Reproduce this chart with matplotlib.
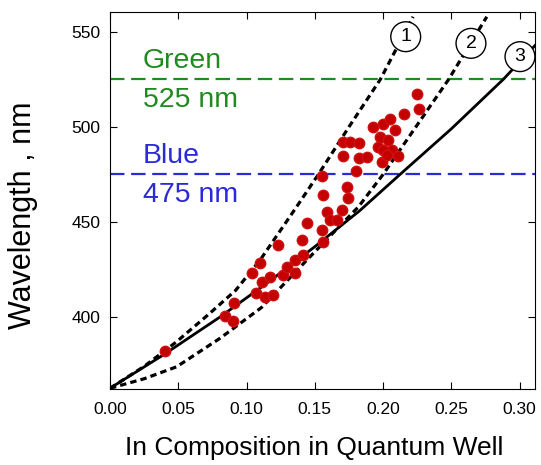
import matplotlib
matplotlib.use('Agg')
import matplotlib.pyplot as plt

plt.rcParams['font.family'] = ['Liberation Sans', 'DejaVu Sans']

# measured In composition vs. emission wavelength (nm)
x_meas = [0.040, 0.084, 0.090, 0.091, 0.104, 0.110, 0.107, 0.1135, 0.111, 0.1196,
          0.117, 0.123, 0.127, 0.1294, 0.1355, 0.1355, 0.1416, 0.1404, 0.1445, 0.155,
          0.156, 0.1587, 0.161, 0.166, 0.1697, 0.1746, 0.1734, 0.1562, 0.155, 0.1802,
          0.1709, 0.1826, 0.188, 0.1704, 0.1758, 0.1826, 0.1929, 0.1997, 0.2051, 0.2153,
          0.2246, 0.2266, 0.2087, 0.1978, 0.2039, 0.1965, 0.2063, 0.2002, 0.2112, 0.199,
          0.2027]
wl_meas = [382, 400.5, 398, 407.5, 423, 428.5, 412.5, 410.5, 418.5, 411.5,
           421, 438, 422, 426.5, 423, 430, 432.5, 440.5, 449.5, 445.8,
           439.6, 455.4, 451, 451, 456.3, 462.5, 468.6, 464.2, 474.2, 477,
           484.7, 483.5, 484, 492.3, 492.3, 491.7, 500.2, 501.6, 504, 506.7,
           517.4, 509.3, 498.4, 494.9, 493.2, 489.6, 487.9, 487.9, 484.7, 481.7,
           485.3]

# model curves
x_c1 = [0, 0.025, 0.0488, 0.0732, 0.092, 0.110, 0.1367, 0.1526, 0.175, 0.198, 0.222]
wl_c1 = [362.5, 374, 387, 402, 414, 430, 458, 475, 500, 525, 558]
x_c2 = [0, 0.025, 0.0488, 0.0806, 0.111, 0.1465, 0.182, 0.200, 0.248, 0.276]
wl_c2 = [362.5, 367.5, 373.8, 388.8, 405, 431.7, 458, 475, 525, 558]
x_c3 = [0, 0.039, 0.0806, 0.1172, 0.150, 0.183, 0.2124, 0.250, 0.288, 0.315]
wl_c3 = [362.5, 380, 400, 419, 437, 456, 475, 499, 525, 545.7]

fig = plt.figure(figsize=(5.41, 4.65), dpi=100)
ax = fig.add_axes([0.2033, 0.1634, 0.7856, 0.8108])

ax.axhline(525, color='#1f8a1f', ls=(0, (6.5, 3)), lw=1.6, zorder=1)
ax.axhline(475, color='#2a2ad8', ls=(0, (6.5, 3)), lw=1.6, zorder=1)

ax.plot(x_c1, wl_c1, color='black', ls=(0, (2, 1.3)), lw=2.3, zorder=2)
ax.plot(x_c2, wl_c2, color='black', ls=(0, (2, 1.3)), lw=2.3, zorder=2)
ax.plot(x_c3, wl_c3, color='black', ls='-', lw=2.0, zorder=2)

ax.plot(x_meas, wl_meas, 'o', color='#c40000', mec='#d01010', ms=7.5, zorder=3)

ax.text(0.024, 528, 'Green', color='#1f8a1f', fontsize=20.5, va='bottom')
ax.text(0.024, 521, '525 nm', color='#1f8a1f', fontsize=20.5, va='top')
ax.text(0.024, 478, 'Blue', color='#2a2ad8', fontsize=20.5, va='bottom')
ax.text(0.024, 471, '475 nm', color='#2a2ad8', fontsize=20.5, va='top')

for lab, xx, yy in [('1', 0.2166, 547.5), ('2', 0.2644, 544), ('3', 0.3003, 537)]:
    ax.text(xx, yy, lab, fontsize=14, ha='center', va='center', zorder=5,
            bbox=dict(boxstyle='circle,pad=0.33', fc='white', ec='black', lw=1))

ax.set_xlim(0, 0.3113)
ax.set_ylim(362.1, 560.5)
ax.set_xticks([0, 0.05, 0.10, 0.15, 0.20, 0.25, 0.30])
ax.set_xticklabels(['0.00', '0.05', '0.10', '0.15', '0.20', '0.25', '0.30'])
ax.set_yticks([400, 450, 500, 550])
ax.tick_params(direction='in', top=True, right=True, length=5, labelsize=12.5,
               colors='black')
ax.tick_params(axis='x', pad=9)
ax.tick_params(axis='y', pad=7)
ax.set_xlabel('In Composition in Quantum Well', fontsize=19)
ax.set_ylabel('Wavelength , nm', fontsize=22)
ax.xaxis.set_label_coords(0.481, -0.125)
ax.yaxis.set_label_coords(-0.17, 0.4615)

fig.savefig('out.png', dpi=100)
